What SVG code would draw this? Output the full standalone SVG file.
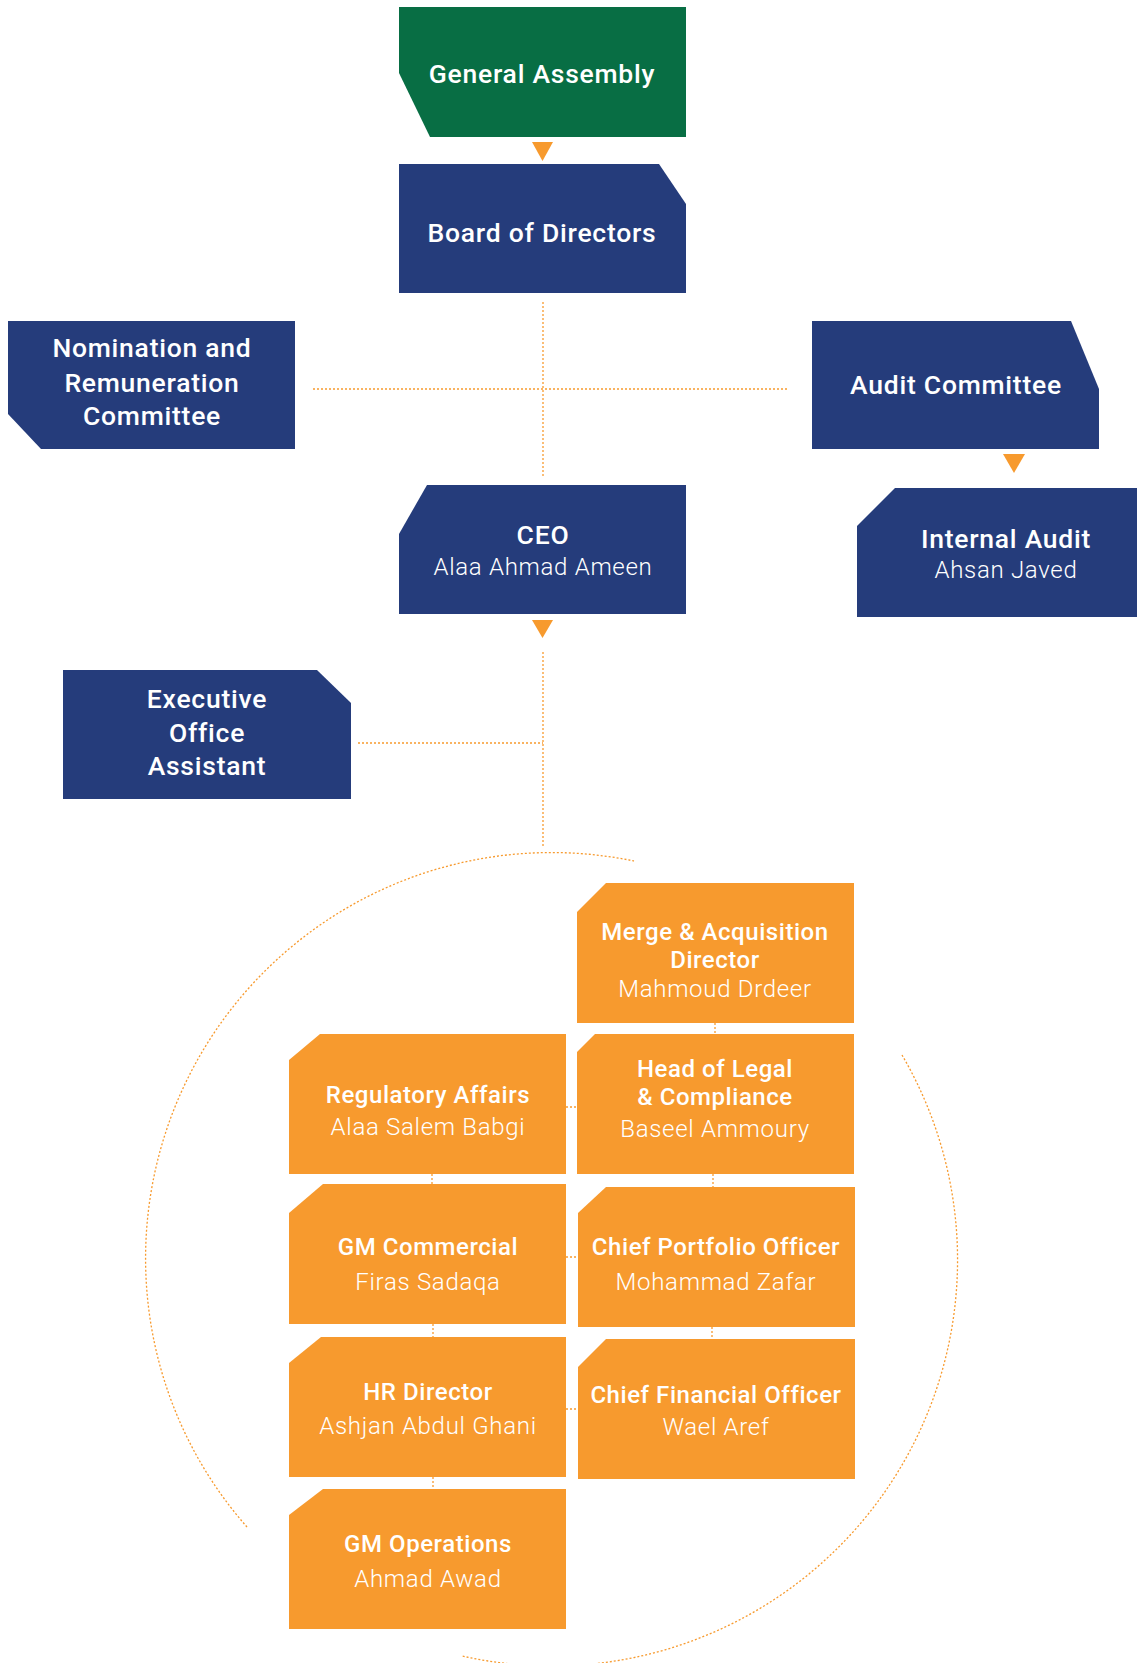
<svg xmlns="http://www.w3.org/2000/svg" width="1137" height="1663" viewBox="0 0 1137 1663">
<style>
.green{fill:#086E44}
.blue{fill:#253C7B}
.orange{fill:#F79A2E}
.t{font-family:Roboto,"Liberation Sans",sans-serif;fill:#fff;text-anchor:middle}
.h{font-weight:500;font-size:26.5px;letter-spacing:0.75px}
.ho{font-weight:500;font-size:24px;letter-spacing:0.55px}
.n{font-weight:300;font-size:24px;letter-spacing:0.7px}
.dot{fill:none;stroke:#F79A2E;stroke-width:1.3;stroke-dasharray:2 2}
.tri{fill:#F79A2E}
</style>
<rect width="1137" height="1663" fill="#fff"/>
<g id="connectors">
<line class="dot" x1="543" y1="302" x2="543" y2="477"/>
<line class="dot" x1="313" y1="389" x2="788" y2="389"/>
<line class="dot" x1="543" y1="652" x2="543" y2="848"/>
<line class="dot" x1="358" y1="743" x2="543" y2="743"/>
<path class="dot" d="M247,1527 A406,406 0 0 1 634,861"/>
<path class="dot" d="M902,1055 A406,406 0 0 1 462,1656"/>
<line class="dot" x1="715" y1="1023" x2="715" y2="1034"/>
<line class="dot" x1="566" y1="1107" x2="577" y2="1107"/>
<line class="dot" x1="432" y1="1174" x2="432" y2="1184"/>
<line class="dot" x1="713" y1="1174" x2="713" y2="1187"/>
<line class="dot" x1="566" y1="1257" x2="578" y2="1257"/>
<line class="dot" x1="433" y1="1324" x2="433" y2="1337"/>
<line class="dot" x1="712" y1="1327" x2="712" y2="1339"/>
<line class="dot" x1="566" y1="1409" x2="578" y2="1409"/>
<line class="dot" x1="433" y1="1477" x2="433" y2="1489"/>
<polygon class="tri" points="532,142 553,142 542.5,161"/>
<polygon class="tri" points="1003,454 1025,454 1014,473"/>
<polygon class="tri" points="532,620 553,620 542.5,638"/>
</g>
<g id="general-assembly">
<polygon class="green" points="399,7 686,7 686,137 430,137 399,73"/>
<text class="t h" x="542" y="83">General Assembly</text>
</g>
<g id="board-of-directors">
<polygon class="blue" points="399,164 659,164 686,204 686,293 399,293"/>
<text class="t h" x="542" y="242">Board of Directors</text>
</g>
<g id="nomination">
<polygon class="blue" points="8,321 295,321 295,449 41,449 8,414"/>
<text class="t h" x="152" y="357">Nomination and</text>
<text class="t h" x="152" y="392">Remuneration</text>
<text class="t h" x="152" y="425">Committee</text>
</g>
<g id="audit-committee">
<polygon class="blue" points="812,321 1071,321 1099,389 1099,449 812,449"/>
<text class="t h" x="956" y="394">Audit Committee</text>
</g>
<g id="internal-audit">
<polygon class="blue" points="895,488 1137,488 1137,617 857,617 857,526"/>
<text class="t h" x="1006" y="548">Internal Audit</text>
<text class="t n" x="1006" y="578">Ahsan Javed</text>
</g>
<g id="ceo">
<polygon class="blue" points="427,485 686,485 686,614 399,614 399,534"/>
<text class="t h" x="543" y="544">CEO</text>
<text class="t n" x="543" y="575">Alaa Ahmad Ameen</text>
</g>
<g id="executive-office-assistant">
<polygon class="blue" points="63,670 317,670 351,703 351,799 63,799"/>
<text class="t h" x="207" y="708">Executive</text>
<text class="t h" x="207" y="742">Office</text>
<text class="t h" x="207" y="775">Assistant</text>
</g>
<g id="merge-acquisition">
<polygon class="orange" points="606,883 854,883 854,1023 577,1023 577,912"/>
<text class="t ho" x="715" y="940">Merge &amp; Acquisition</text>
<text class="t ho" x="715" y="968">Director</text>
<text class="t n" x="715" y="997">Mahmoud Drdeer</text>
</g>
<g id="head-of-legal">
<polygon class="orange" points="595,1034 854,1034 854,1174 577,1174 577,1052"/>
<text class="t ho" x="715" y="1077">Head of Legal</text>
<text class="t ho" x="715" y="1105">&amp; Compliance</text>
<text class="t n" x="715" y="1137">Baseel Ammoury</text>
</g>
<g id="regulatory-affairs">
<polygon class="orange" points="320,1034 566,1034 566,1174 289,1174 289,1060"/>
<text class="t ho" x="428" y="1103">Regulatory Affairs</text>
<text class="t n" x="428" y="1135">Alaa Salem Babgi</text>
</g>
<g id="gm-commercial">
<polygon class="orange" points="323,1184 566,1184 566,1324 289,1324 289,1213"/>
<text class="t ho" x="428" y="1255">GM Commercial</text>
<text class="t n" x="428" y="1290">Firas Sadaqa</text>
</g>
<g id="chief-portfolio-officer">
<polygon class="orange" points="606,1187 855,1187 855,1327 578,1327 578,1213"/>
<text class="t ho" x="716" y="1255">Chief Portfolio Officer</text>
<text class="t n" x="716" y="1290">Mohammad Zafar</text>
</g>
<g id="chief-financial-officer">
<polygon class="orange" points="606,1339 855,1339 855,1479 578,1479 578,1367"/>
<text class="t ho" x="716" y="1403">Chief Financial Officer</text>
<text class="t n" x="716" y="1435">Wael Aref</text>
</g>
<g id="hr-director">
<polygon class="orange" points="321,1337 566,1337 566,1477 289,1477 289,1363"/>
<text class="t ho" x="428" y="1400">HR Director</text>
<text class="t n" x="428" y="1434">Ashjan Abdul Ghani</text>
</g>
<g id="gm-operations">
<polygon class="orange" points="323,1489 566,1489 566,1629 289,1629 289,1515"/>
<text class="t ho" x="428" y="1552">GM Operations</text>
<text class="t n" x="428" y="1587">Ahmad Awad</text>
</g>
</svg>
